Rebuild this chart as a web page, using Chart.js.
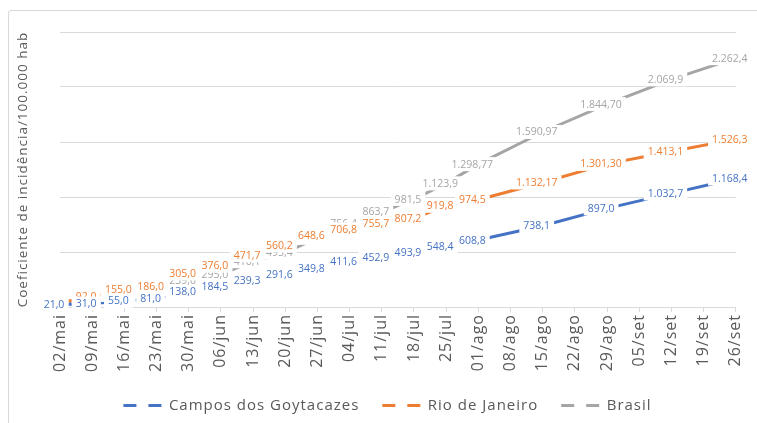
<!DOCTYPE html>
<html><head><meta charset="utf-8">
<script src="https://cdn.jsdelivr.net/npm/chart.js@4.4.0/dist/chart.umd.min.js"></script>
<style>
html,body{margin:0;padding:0;background:#fff;overflow:hidden;width:757px;height:423px;}
#frame{position:absolute;left:8px;top:10px;width:800px;height:440px;border:1px solid #d9d9d9;border-radius:3px;box-sizing:border-box;}
#c{position:absolute;left:0;top:0;}
</style></head><body>
<div id="frame"></div>
<canvas id="c" width="757" height="423"></canvas>
<script>
const categories = ['02/mai','09/mai','16/mai','23/mai','30/mai','06/jun','13/jun','20/jun','27/jun','04/jul','11/jul','18/jul','25/jul','01/ago','08/ago','15/ago','22/ago','29/ago','05/set','12/set','19/set','26/set'];

const campos = [21.0, 31.0, 55.0, 81.0, 138.0, 184.5, 239.3, 291.6, 349.8, 411.6, 452.9, 493.9, 548.4, 608.8, null, 738.1, null, 897.0, null, 1032.7, null, 1168.4];
const camposDecimals = [1,1,1,1,1,1,1,1,1,1,1,1,1,1,1,1,1,1,1,1,1,1];

const rio = [41.0, 92.0, 155.0, 186.0, 305.0, 376.0, 471.7, 560.2, 648.6, 706.8, 755.7, 807.2, 919.8, 974.5, null, 1132.17, null, 1301.30, null, 1413.1, null, 1526.3];
const rioDecimals = [1,1,1,1,1,1,1,1,1,1,1,1,1,1,1,2,1,2,1,1,1,1];

const brasil = [31.0, 52.0, 110.0, 160.0, 239.0, 295.0, 416.1, 495.4, 628.6, 756.4, 863.7, 981.5, 1123.9, 1298.77, null, 1590.97, null, 1844.70, null, 2069.9, null, 2262.4];
const brasilDecimals = [1,1,1,1,1,1,1,1,1,1,1,1,1,2,1,2,1,2,1,1,1,1];

const yMin = 0, yMax = 2500, yStep = 500;
const yTitle = 'Coeficiente de incidência/100.000 hab';
const seriesNames = ['Campos dos Goytacazes', 'Rio de Janeiro', 'Brasil'];

const FONT = '"Open Sans", "Noto Sans", sans-serif';
const BLUE = '#4472C4', ORANGE = '#ED7D31', GRAY = '#A5A5A5', TEXT = '#595959';

function fmt(v, d) {
  const parts = v.toFixed(d).split('.');
  const intPart = parts[0].replace(/\B(?=(\d{3})+(?!\d))/g, '.');
  return parts.length > 1 ? intPart + ',' + parts[1] : intPart;
}

const SPACING = '1px';
const spacingPlugin = {
  id: 'spacing',
  beforeUpdate(chart) { chart.ctx.letterSpacing = SPACING; },
  beforeLayout(chart) { chart.ctx.letterSpacing = SPACING; },
  beforeDraw(chart) { chart.ctx.letterSpacing = SPACING; }
};

const LABEL_DX = -6, PADX = 4, BOXH = 14;
const LABEL_ORDER = [2, 1, 0];
const labelPlugin = {
  id: 'pointLabels',
  afterDatasetsDraw(chart) {
    const ctx = chart.ctx;
    ctx.save();
    ctx.letterSpacing = '0px';
    ctx.font = '10.5px ' + FONT;
    ctx.textAlign = 'center';
    ctx.textBaseline = 'middle';
    LABEL_ORDER.forEach(i => {
      const ds = chart.data.datasets[i];
      const meta = chart.getDatasetMeta(i);
      meta.data.forEach((pt, j) => {
        const v = ds.data[j];
        if (v === null || v === undefined) return;
        const txt = fmt(v, ds.decimals[j]);
        const w = ctx.measureText(txt).width;
        const x = pt.x + LABEL_DX, y = pt.y;
        ctx.fillStyle = '#ffffff';
        ctx.fillRect(x - w / 2 - PADX, y - BOXH / 2, w + 2 * PADX, BOXH);
        ctx.fillStyle = ds.borderColor;
        ctx.fillText(txt, x, y + 0.5);
      });
    });
    ctx.restore();
    ctx.letterSpacing = SPACING;
  }
};

new Chart(document.getElementById('c'), {
  type: 'line',
  data: {
    labels: categories,
    datasets: [
      { label: seriesNames[0], data: campos, decimals: camposDecimals, borderColor: BLUE, backgroundColor: BLUE, borderWidth: 3, pointRadius: 0, spanGaps: true, tension: 0 },
      { label: seriesNames[1], data: rio, decimals: rioDecimals, borderColor: ORANGE, backgroundColor: ORANGE, borderWidth: 3, pointRadius: 0, spanGaps: true, tension: 0 },
      { label: seriesNames[2], data: brasil, decimals: brasilDecimals, borderColor: GRAY, backgroundColor: GRAY, borderWidth: 3, pointRadius: 0, spanGaps: true, tension: 0 }
    ]
  },
  options: {
    responsive: false,
    animation: false,
    layout: { padding: { top: 32, right: 12, left: 28, bottom: 0 } },
    plugins: {
      tooltip: { enabled: false },
      legend: {
        position: 'bottom',
        labels: {
          usePointStyle: true,
          pointStyleWidth: 40,
          boxHeight: 15,
          padding: 21,
          color: TEXT,
          font: { size: 15, family: FONT },
          generateLabels(chart) {
            const items = Chart.defaults.plugins.legend.labels.generateLabels(chart);
            items.forEach(it => { it.pointStyle = 'line'; it.lineDash = [13, 12]; it.lineDashOffset = 23; it.lineWidth = 3; });
            return items;
          }
        }
      }
    },
    scales: {
      x: {
        offset: false,
        grid: { drawOnChartArea: false, drawTicks: true, tickLength: 5, color: '#d9d9d9' },
        border: { color: '#d9d9d9' },
        ticks: { minRotation: 90, maxRotation: 90, autoSkip: false, padding: 2, color: TEXT, font: { size: 16, family: FONT } },
        afterFit(s) { s.height = 70; }
      },
      y: {
        min: yMin, max: yMax,
        ticks: { stepSize: yStep, display: false },
        grid: { color: '#d9d9d9', drawTicks: false },
        border: { display: false },
        title: { display: true, text: yTitle, color: TEXT, font: { size: 13.5, family: FONT }, padding: { top: -13, bottom: 0 } },
        afterFit(s) { s.width = 32; }
      }
    }
  },
  plugins: [spacingPlugin, labelPlugin]
});
</script>
</body></html>
